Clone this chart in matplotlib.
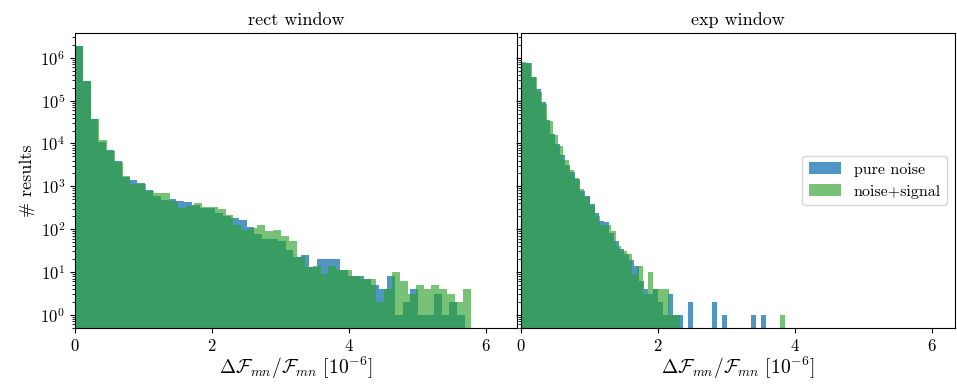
import numpy as np
import matplotlib
matplotlib.use("Agg")
import matplotlib.pyplot as plt

# bin counts: 50 equal bins from 0 to each series' max
rect_noise_max = 5.69
rect_noise = [1.87e6, 2.8e5, 3.7e4, 1.1e4, 7000, 3900, 1650, 1400, 1200, 820,
              590, 480, 500, 460, 430, 365, 310, 310, 240, 205,
              180, 160, 112, 77, 59, 59, 53, 33, 22, 25,
              13, 20, 20, 20, 11, 8, 8, 7, 5, 4,
              8, 1, 2, 4, 1, 1, 3, 1, 2, 1]
rect_signal_max = 5.78
rect_signal = [1.87e6, 2.9e5, 3.7e4, 1.2e4, 6600, 3700, 1750, 1130, 1130, 780,
               700, 690, 460, 310, 350, 410, 330, 320, 295, 215,
               125, 95, 107, 125, 91, 95, 69, 53, 22, 13,
               14, 9, 14, 11, 11, 8, 7, 7, 2, 4,
               10, 6, 3, 5, 4, 5, 4, 3, 2, 4]
exp_noise_max = 3.58
exp_noise = [7.4e5, 7.4e5, 3.5e5, 1.9e5, 9.4e4, 3.5e4, 1.7e4, 9.5e3, 5.4e3, 3.1e3,
             2150, 1470, 780, 590, 380, 240, 155, 146, 79, 53,
             35, 26, 19, 14, 6, 4, 3, 4, 2, 1,
             3, 1, 1, 0, 2, 0, 0, 0, 0, 2,
             0, 1, 0, 0, 0, 0, 0, 1, 0, 1]
exp_signal_max = 3.86
exp_signal = [7.9e5, 7.6e5, 3.6e5, 1.6e5, 8.4e4, 3.3e4, 1.6e4, 8.7e3, 4.1e3, 2.4e3,
              1560, 870, 560, 350, 205, 125, 125, 88, 41, 30,
              26, 9, 14, 3, 10, 4, 4, 4, 1, 1,
              0, 0, 0, 0, 0, 0, 0, 0, 0, 0,
              0, 0, 0, 0, 0, 0, 0, 0, 0, 1]

titles = ["rect window", "exp window"]
labels = ["pure noise", "noise+signal"]

plt.rcParams.update({"font.family": "serif", "font.serif": ["cmr10"],
                     "mathtext.fontset": "cm", "axes.formatter.use_mathtext": True,
                     "font.size": 12, "axes.unicode_minus": False})

W, H = 957, 385
fig = plt.figure(figsize=(W / 100, H / 100))
b, h = 1 - 328 / H, (328 - 33) / H
ax0 = fig.add_axes([75 / W, b, 442 / W, h])
ax1 = fig.add_axes([521 / W, b, 434 / W, h], sharey=ax0)
axes = [ax0, ax1]

panels = [((rect_noise, rect_noise_max), (rect_signal, rect_signal_max)),
          ((exp_noise, exp_noise_max), (exp_signal, exp_signal_max))]
for ax, title, pair in zip(axes, titles, panels):
    for (counts, xmax), col, a, lab in zip(pair, ["tab:blue", "tab:green"], [0.78, 0.64], labels):
        edges = np.linspace(0, xmax, len(counts) + 1)
        ax.hist(edges[:-1], bins=edges, weights=counts, color=col, alpha=a, log=True, label=lab)
    ax.set_title(title, fontsize=13)
    ax.set_xlabel(r"$\Delta\mathcal{F}_{mn}/\mathcal{F}_{mn}\ [10^{-6}]$", fontsize=14, labelpad=1)
    ax.set_xticks([0, 2, 4, 6])
    ax.tick_params(labelsize=12)

ax0.set_xlim(0, 6.45)
ax1.set_xlim(0, 6.34)
ax1.tick_params(labelleft=False)
ax0.set_ylabel("# results", fontsize=13, labelpad=4)
ax0.set_ylim(0.49, 3.8e6)
ax1.legend(loc="center right", fontsize=11.5, bbox_to_anchor=(1.0, 0.5))

fig.savefig("out.png", dpi=100)
